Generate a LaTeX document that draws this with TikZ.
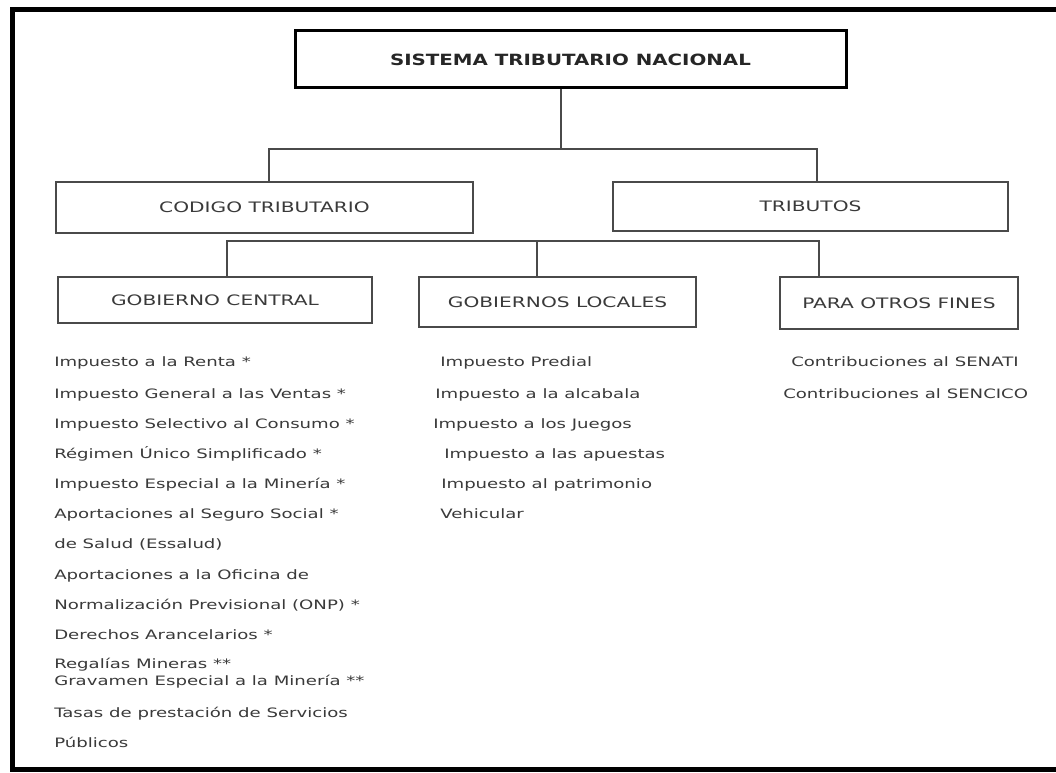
\documentclass[tikz,border=0pt]{standalone}
\usepackage{fontspec}
\setmainfont{DejaVu Sans}[FakeStretch=1.4]
\newfontfamily\titlefont{DejaVu Sans}[FakeStretch=1.28]
\definecolor{inkgray}{HTML}{3A3A3A}
\definecolor{linegray}{HTML}{4A4A4A}
\tikzset{
  boxnode/.style={draw=linegray, line width=1.5pt, text=inkgray, inner sep=0pt,
    font=\fontsize{10.8}{12}\selectfont},
  itemtext/.style={anchor=base west, inner sep=0pt, text=inkgray,
    font=\fontsize{9.7}{11}\selectfont},
  link/.style={draw=linegray, line width=1.1pt}
}
\begin{document}
\begin{tikzpicture}[x=0.75pt, y=-0.75pt]
  \useasboundingbox (0,0) rectangle (1056,773);
  \fill[white] (0,0) rectangle (1056,773);
  % marco
  \draw[line width=3.75pt] (1060,10) -- (12,10) -- (12,769) -- (1060,769);
  % cajas
  \node[draw, line width=2.25pt, inner sep=0pt, minimum width=551*0.75pt, minimum height=57*0.75pt,
    text=black!85, font=\titlefont\bfseries\fontsize{11.6}{13}\selectfont] (sistema) at (570.5,59.5) {SISTEMA TRIBUTARIO NACIONAL};
  \node[boxnode, minimum width=417*0.75pt, minimum height=51*0.75pt] (codigo) at (264.5,207.5) {CODIGO TRIBUTARIO};
  \node[boxnode, minimum width=395*0.75pt, minimum height=49*0.75pt] (tributos) at (810.5,206.5) {TRIBUTOS};
  \node[boxnode, minimum width=314*0.75pt, minimum height=46*0.75pt] (central) at (215,300) {GOBIERNO CENTRAL};
  \node[boxnode, minimum width=277*0.75pt, minimum height=50*0.75pt] (locales) at (557.5,302) {GOBIERNOS LOCALES};
  \node[boxnode, minimum width=238*0.75pt, minimum height=52*0.75pt] (otros) at (899,303) {PARA OTROS FINES};
  % conectores
  \coordinate (j1) at (561,149);
  \coordinate (j1l) at (269,149);
  \coordinate (j1r) at (817,149);
  \draw[link] (sistema.south -| j1) -- (j1);
  \draw[link] (j1l |- codigo.north) -- (j1l) -- (j1r) -- (j1r |- tributos.north);
  \coordinate (j2l) at (227,241);
  \coordinate (j2m) at (537,241);
  \coordinate (j2r) at (819,241);
  \draw[link] (j2l |- central.north) -- (j2l) -- (j2r) -- (j2r |- otros.north);
  \draw[link] (j2m) -- (j2m |- locales.north);
  % gobierno central
  \node[itemtext] (c1) at (54,367) {Impuesto a la Renta *};
  \node[itemtext] (c2) at (54,398) {Impuesto General a las Ventas *};
  \node[itemtext] (c3) at (54,428) {Impuesto Selectivo al Consumo *};
  \node[itemtext] (c4) at (54,458) {Régimen Único Simplificado *};
  \node[itemtext] (c5) at (54,488) {Impuesto Especial a la Minería *};
  \node[itemtext] (c6) at (54,518) {Aportaciones al Seguro Social *};
  \node[itemtext] (c7) at (54,548) {de Salud (Essalud)};
  \node[itemtext] (c8) at (54,579) {Aportaciones a la Oficina de};
  \node[itemtext] (c9) at (54,609) {Normalización Previsional (ONP) *};
  \node[itemtext] (c10) at (54,639) {Derechos Arancelarios *};
  \node[itemtext] (c11) at (54,668) {Regalías Mineras **};
  \node[itemtext] (c12) at (54,685) {Gravamen Especial a la Minería **};
  \node[itemtext] (c13) at (54,717) {Tasas de prestación de Servicios};
  \node[itemtext] (c14) at (54,747) {Públicos};
  % gobiernos locales
  \node[itemtext] (l1) at (440,367) {Impuesto Predial};
  \node[itemtext] (l2) at (435,398) {Impuesto a la alcabala};
  \node[itemtext] (l3) at (433,428) {Impuesto a los Juegos};
  \node[itemtext] (l4) at (444,458) {Impuesto a las apuestas};
  \node[itemtext] (l5) at (441,488) {Impuesto al patrimonio};
  \node[itemtext] (l6) at (440,518) {Vehicular};
  % otros fines
  \node[itemtext] (o1) at (791,367) {Contribuciones al SENATI};
  \node[itemtext] (o2) at (783,398) {Contribuciones al SENCICO};
\end{tikzpicture}
\end{document}
